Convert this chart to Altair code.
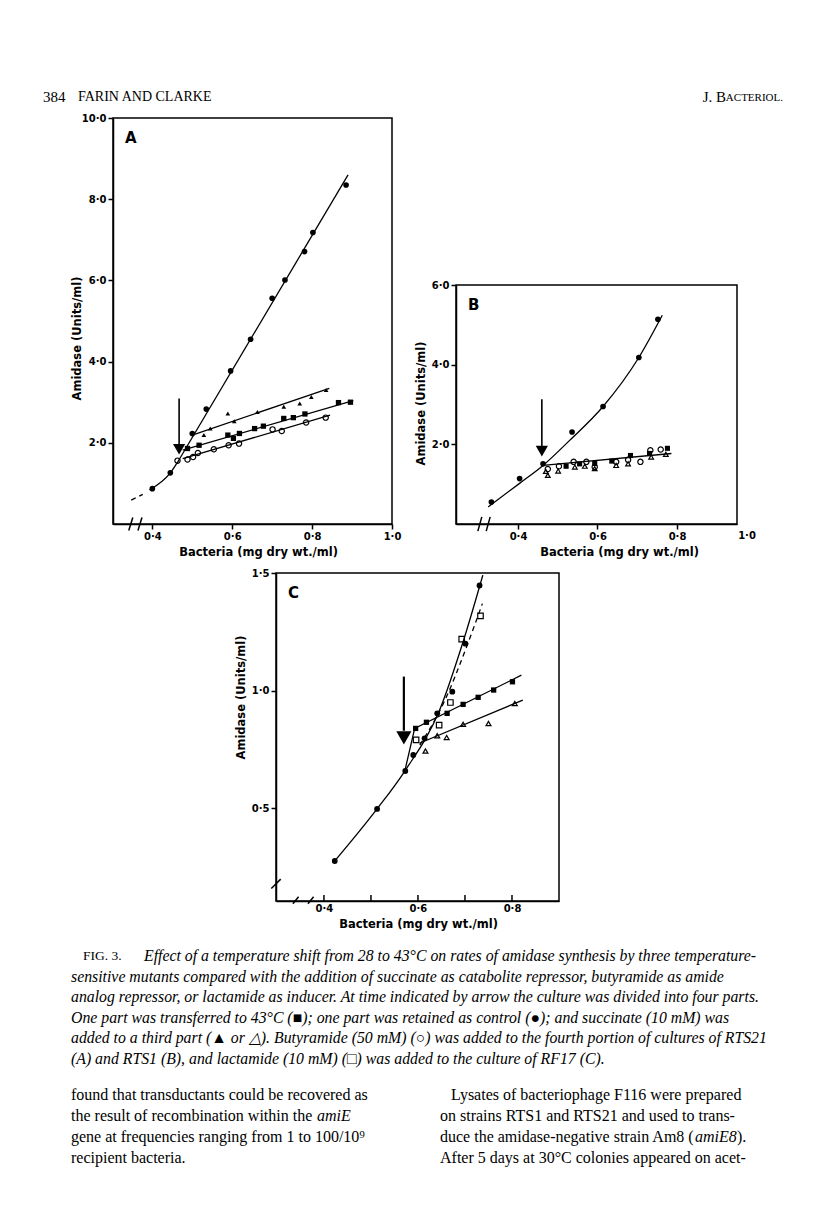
import altair as alt
import pandas as pd

# ---------------- Panel A (RTS21) ----------------
A_ctrl_x = [0.40, 0.445, 0.50, 0.535, 0.596, 0.646, 0.70, 0.732, 0.781, 0.802, 0.885]
A_ctrl_y = [0.87, 1.26, 2.23, 2.83, 3.77, 4.55, 5.56, 6.01, 6.71, 7.18, 8.35]
A_hot_x = [0.488, 0.517, 0.589, 0.603, 0.618, 0.656, 0.678, 0.729, 0.753, 0.782, 0.866, 0.896]
A_hot_y = [1.86, 1.94, 2.19, 2.11, 2.23, 2.35, 2.41, 2.60, 2.62, 2.71, 2.99, 3.00]
A_succ_x = [0.529, 0.545, 0.589, 0.605, 0.663, 0.729, 0.769, 0.798, 0.835]
A_succ_y = [2.19, 2.35, 2.72, 2.53, 2.76, 2.89, 2.97, 3.13, 3.30]
A_buty_x = [0.463, 0.488, 0.502, 0.514, 0.554, 0.591, 0.617, 0.701, 0.724, 0.785, 0.834]
A_buty_y = [1.56, 1.59, 1.65, 1.75, 1.84, 1.94, 1.98, 2.33, 2.29, 2.50, 2.62]
# drawn curves
A_pre_x = [0.393, 0.445, 0.468]
A_pre_y = [0.84, 1.26, 1.60]
A_pre_dash_x = [0.347, 0.376]
A_pre_dash_y = [0.59, 0.73]
A_ctrl_fit_x = [0.468, 0.89]
A_ctrl_fit_y = [1.60, 8.60]
A_succ_fit_x = [0.50, 0.843]
A_succ_fit_y = [2.19, 3.34]
A_hot_fit_x = [0.476, 0.903]
A_hot_fit_y = [1.82, 3.04]
A_buty_fit_x = [0.476, 0.845]
A_buty_fit_y = [1.61, 2.68]

# ---------------- Panel B (RTS1) ----------------
B_ctrl_x = [0.333, 0.404, 0.463, 0.536, 0.614, 0.704, 0.752]
B_ctrl_y = [0.55, 1.14, 1.51, 2.31, 2.95, 4.18, 5.14]
B_hot_x = [0.521, 0.555, 0.593, 0.636, 0.683, 0.731, 0.776]
B_hot_y = [1.45, 1.51, 1.52, 1.58, 1.72, 1.77, 1.90]
B_succ_x = [0.470, 0.475, 0.501, 0.543, 0.568, 0.593, 0.647, 0.677, 0.735, 0.772]
B_succ_y = [1.32, 1.22, 1.33, 1.43, 1.45, 1.39, 1.47, 1.51, 1.68, 1.75]
B_buty_x = [0.475, 0.503, 0.540, 0.572, 0.593, 0.647, 0.677, 0.708, 0.733, 0.759]
B_buty_y = [1.38, 1.45, 1.56, 1.56, 1.43, 1.56, 1.61, 1.56, 1.85, 1.87]
B_curve_x = [0.325, 0.404, 0.463, 0.530, 0.614, 0.704, 0.763]
B_curve_y = [0.43, 1.02, 1.47, 2.10, 2.95, 4.18, 5.24]
B_flat_x = [0.463, 0.786]
B_flat_y = [1.47, 1.77]

# ---------------- Panel C (RF17) ----------------
C_ctrl_x = [0.423, 0.513, 0.573, 0.590, 0.614, 0.641, 0.673, 0.701, 0.731]
C_ctrl_y = [0.277, 0.498, 0.659, 0.727, 0.798, 0.904, 0.996, 1.20, 1.447]
C_hot_x = [0.595, 0.618, 0.662, 0.696, 0.728, 0.761, 0.801]
C_hot_y = [0.84, 0.866, 0.904, 0.942, 0.972, 1.003, 1.038]
C_succ_x = [0.616, 0.641, 0.661, 0.696, 0.750, 0.806]
C_succ_y = [0.744, 0.809, 0.801, 0.857, 0.861, 0.946]
C_lact_x = [0.596, 0.645, 0.669, 0.693, 0.733]
C_lact_y = [0.791, 0.854, 0.950, 1.219, 1.318]
C_curve_x = [0.423, 0.513, 0.572, 0.646, 0.696, 0.738]
C_curve_y = [0.277, 0.498, 0.659, 0.918, 1.208, 1.491]
C_hot_fit_x = [0.572, 0.593, 0.820]
C_hot_fit_y = [0.659, 0.840, 1.066]
C_succ_fit_x = [0.603, 0.823]
C_succ_fit_y = [0.777, 0.960]
C_lact_fit_x = [0.604, 0.655, 0.706, 0.737]
C_lact_fit_y = [0.769, 0.95, 1.20, 1.37]

# ---------------- texts ----------------
header_left = ["384", "FARIN AND CLARKE"]
header_right_big = "J. B"
header_right_small = "ACTERIOL."
fig_label = "FIG. 3."
caption_lines = [
    "Effect of a temperature shift from 28 to 43°C on rates of amidase synthesis by three temperature-",
    "sensitive mutants compared with the addition of succinate as catabolite repressor, butyramide as amide",
    "analog repressor, or lactamide as inducer. At time indicated by arrow the culture was divided into four parts.",
    "One part was transferred to 43°C (■); one part was retained as control (●); and succinate (10 mM) was",
    "added to a third part (▲ or △). Butyramide (50 mM) (○) was added to the fourth portion of cultures of RTS21",
    "(A) and RTS1 (B), and lactamide (10 mM) (□) was added to the culture of RF17 (C).",
]
body_left = [
    "found that transductants could be recovered as",
    "the result of recombination within the ",
    "gene at frequencies ranging from 1 to 100/10⁹",
    "recipient bacteria.",
]
body_left_italic = "amiE"
body_right = [
    "Lysates of bacteriophage F116 were prepared",
    "on strains RTS1 and RTS21 and used to trans-",
    "duce the amidase-negative strain Am8 (",
    "After 5 days at 30°C colonies appeared on acet-",
]
body_right_italic = "amiE8"
body_right_tail = ")."
x_title = "Bacteria (mg dry wt./ml)"
y_title = "Amidase (Units/ml)"

AXF = "DejaVu Sans"
SERIF = "Liberation Serif"
DOT = "replace(format(datum.value, '.1f'), '.', '·')"


def sc(dom):
    return alt.Scale(domain=dom, nice=False, zero=False)


def pts(xs, ys):
    return pd.DataFrame({"x": xs, "y": ys})


def segs(pairs):
    rows = []
    for k, (xs, ys) in enumerate(pairs):
        for i, (a, b) in enumerate(zip(xs, ys)):
            rows.append({"x": a, "y": b, "seg": k, "i": i})
    return pd.DataFrame(rows)


def line_layer(pairs, X, Y, interp, dash=None):
    kw = dict(color="black", strokeWidth=1.3, interpolate=interp)
    if dash:
        kw["strokeDash"] = dash
    return (alt.Chart(segs(pairs)).mark_line(**kw)
            .encode(x=X, y=Y, detail="seg:N", order="i:Q"))


def panel(xdom, ydom, w, h, xaxis, yaxis, point_sets, curves, straight, dashed, arrow,
          slashes, letter, extra=None):
    X = alt.X("x:Q", scale=sc(xdom), axis=xaxis)
    Y = alt.Y("y:Q", scale=sc(ydom), axis=yaxis)
    layers = []
    if curves:
        layers.append(line_layer(curves, X, Y, "monotone"))
    if straight:
        layers.append(line_layer(straight, X, Y, "linear"))
    if dashed:
        layers.append(line_layer(dashed, X, Y, "monotone", dash=[5, 4]))
    for xs, ys, shape, filled, size in point_sets:
        layers.append(alt.Chart(pts(xs, ys)).mark_point(shape=shape, filled=filled, size=size,
                                                        color="black", opacity=1,
                                                        strokeWidth=1.2)
                      .encode(x=X, y=Y))
    ax, ytop, yend, yhead, hsize, hw = arrow
    layers.append(alt.Chart(pd.DataFrame({"x": [ax], "y": [ytop], "y2": [yend]}))
                  .mark_rule(color="black", strokeWidth=hw)
                  .encode(x=X, y=Y, y2="y2:Q"))
    layers.append(alt.Chart(pd.DataFrame({"x": [ax], "y": [yhead]}))
                  .mark_point(shape="triangle-down", filled=True, size=hsize, color="black",
                              opacity=1)
                  .encode(x=X, y=Y))
    if slashes:
        sd = pd.DataFrame(slashes, columns=["x", "y", "x2", "y2"])
        layers.append(alt.Chart(sd).mark_rule(color="black", strokeWidth=1.5)
                      .encode(x=X, y=Y, x2="x2:Q", y2="y2:Q"))
    layers.append(alt.Chart(pd.DataFrame({"x": [xdom[0]]}))
                  .mark_text(text=letter, font=AXF, fontSize=15, fontWeight="bold",
                             align="left", baseline="middle", color="black")
                  .encode(x=alt.value(12), y=alt.value(20)))
    if extra:
        layers.extend(extra(X, Y))
    return alt.layer(*layers).properties(width=w, height=h)


def axis_x(values, title, titleX, expr=DOT, ticks=True):
    return alt.Axis(values=values, labelExpr=expr, title=title, titleX=titleX, ticks=ticks,
                    labelFlush=False)


def axis_y(values, title, titleY, titleX=None):
    kw = dict(values=values, labelExpr=DOT, title=title, titleY=titleY, labelFlush=False)
    if titleX is not None:
        kw["titleX"] = titleX
    return alt.Axis(**kw)


# ---------------- Panel A ----------------
AX_DOM = [0.3015, 1.0]
AY_DOM = [0, 10]
chartA = panel(
    AX_DOM, AY_DOM, 279, 406,
    axis_x([0.4, 0.6, 0.8, 1.0], x_title, 145),
    axis_y([2, 4, 6, 8, 10], y_title, 220, titleX=-31),
    [
        (A_buty_x, A_buty_y, "circle", False, 28),
        (A_succ_x, A_succ_y, "triangle-up", True, 22),
        (A_hot_x, A_hot_y, "square", True, 28),
        (A_ctrl_x, A_ctrl_y, "circle", True, 32),
    ],
    [(A_pre_x, A_pre_y)],
    [(A_ctrl_fit_x, A_ctrl_fit_y), (A_succ_fit_x, A_succ_fit_y),
     (A_hot_fit_x, A_hot_fit_y), (A_buty_fit_x, A_buty_fit_y)],
    [(A_pre_dash_x, A_pre_dash_y)],
    (0.467, 3.09, 1.95, 1.84, 150, 1.6),
    [(0.341, -0.16, 0.351, 0.16), (0.364, -0.16, 0.374, 0.16)],
    "A",
)

# ---------------- Panel B ----------------
BX_DOM = [0.244, 0.951]
BY_DOM = [0, 6]


def b_extra(X, Y):
    return [alt.Chart(pd.DataFrame({"x": [1.0]}))
            .mark_text(text="1·0", font=AXF, fontSize=10, fontWeight="bold",
                       baseline="top", color="black")
            .encode(x=alt.value(291), y=alt.value(239 + 7))]


chartB = panel(
    BX_DOM, BY_DOM, 281, 239,
    axis_x([0.4, 0.6, 0.8], x_title, 163),
    axis_y([2, 4, 6], y_title, 118),
    [
        (B_succ_x, B_succ_y, "triangle-up", False, 22),
        (B_buty_x, B_buty_y, "circle", False, 28),
        (B_hot_x, B_hot_y, "square", True, 26),
        (B_ctrl_x, B_ctrl_y, "circle", True, 32),
    ],
    [(B_curve_x, B_curve_y)],
    [(B_flat_x, B_flat_y)],
    [],
    (0.460, 3.13, 1.95, 1.83, 150, 1.6),
    [(0.299, -0.18, 0.309, 0.18), (0.320, -0.18, 0.330, 0.18)],
    "B",
    extra=b_extra,
)

# ---------------- Panel C ----------------
CX_DOM = [0.298, 0.900]
CY_DOM = [0.107, 1.5]
C_EXPR = ("(abs(datum.value - 0.5) < 0.01 || abs(datum.value - 0.7) < 0.01) ? '' : " + DOT)
C_xticks = [0.4, 0.5, 0.6, 0.7, 0.8]


def c_extra(X, Y):
    return [alt.Chart(pd.DataFrame({"x": C_xticks}))
            .mark_rule(color="black", strokeWidth=1.5)
            .encode(x=X, y=alt.value(328), y2=alt.value(322))]


chartC = panel(
    CX_DOM, CY_DOM, 283, 328,
    axis_x(C_xticks, x_title, 142, expr=C_EXPR, ticks=False),
    axis_y([0.5, 1.0, 1.5], y_title, 124),
    [
        (C_lact_x, C_lact_y, "square", False, 30),
        (C_succ_x, C_succ_y, "triangle-up", False, 24),
        (C_hot_x, C_hot_y, "square", True, 28),
        (C_ctrl_x, C_ctrl_y, "circle", True, 34),
    ],
    [(C_curve_x, C_curve_y)],
    [(C_hot_fit_x, C_hot_fit_y), (C_succ_fit_x, C_succ_fit_y)],
    [(C_lact_fit_x, C_lact_fit_y)],
    (0.570, 1.06, 0.83, 0.80, 230, 2.2),
    [(0.334, 0.095, 0.346, 0.125), (0.366, 0.095, 0.378, 0.125),
     (0.288, 0.16, 0.308, 0.20)],
    "C",
    extra=c_extra,
)

NOSTROKE = alt.ViewBackground(strokeOpacity=0)


def spacer(w, h):
    return (alt.Chart(pd.DataFrame({"v": [0]})).mark_point(opacity=0)
            .encode(x=alt.value(0), y=alt.value(0))
            .properties(width=w, height=h, view=NOSTROKE))


def txt(s, x, y, size, style="normal", weight="normal", align="left", font=SERIF):
    return (alt.Chart(pd.DataFrame({"t": [s]}))
            .mark_text(font=font, fontSize=size, fontStyle=style, fontWeight=weight,
                       align=align, baseline="middle", color="black")
            .encode(text="t:N", x=alt.value(x), y=alt.value(y)))


header = alt.layer(
    txt(header_left[0], 0, 9, 15),
    txt(header_left[1], 35, 9, 14),
    txt(header_right_small, 740, 10, 11, align="right"),
    txt(header_right_big, 683, 9, 15, align="right"),
).properties(width=740, height=24, view=NOSTROKE)

cap_y = [25, 46, 66, 87, 107, 128]
body_y = [164, 185, 206, 227]
text_layers = [txt(fig_label, 40, cap_y[0], 13.5)]
for k, line in enumerate(caption_lines):
    text_layers.append(txt(line, 101 if k == 0 else 28, cap_y[k], 15.8, style="italic"))
for k, line in enumerate(body_left):
    text_layers.append(txt(line, 28, body_y[k], 16))
text_layers.append(txt(body_left_italic, 274, body_y[1], 16, style="italic"))
for k, line in enumerate(body_right):
    text_layers.append(txt(line, 408 if k == 0 else 397, body_y[k], 16))
text_layers.append(txt(body_right_italic, 652, body_y[2], 16, style="italic"))
text_layers.append(txt(body_right_tail, 694, body_y[2], 16))
text_block = alt.layer(*text_layers).properties(width=740, height=250, view=NOSTROKE)

row1 = alt.hconcat(
    spacer(70, 406), chartA, spacer(64, 406),
    alt.vconcat(spacer(281, 167), chartB, spacing=0, bounds="flush"),
    spacing=0, bounds="flush",
)
row2 = alt.hconcat(spacer(233, 328), chartC, spacing=0, bounds="flush")

chart = alt.vconcat(
    header, row1, spacer(740, 5), row2, text_block,
    spacing=0, bounds="full",
).properties(
    padding={"left": 32, "top": 80, "right": 4, "bottom": 4}
).configure_view(
    stroke="black", strokeWidth=1.5
).configure_axis(
    grid=False, domainColor="black", domainWidth=1.5, tickColor="black", tickWidth=1.5,
    tickSize=5, labelFont=AXF, labelFontSize=10, labelFontWeight="bold",
    labelColor="black", labelPadding=2, titleFont=AXF, titleFontSize=11.5,
    titleFontWeight="bold", titleColor="black", titlePadding=5,
)

chart.save("out.html", embed_options={"renderer": "svg", "actions": False})
